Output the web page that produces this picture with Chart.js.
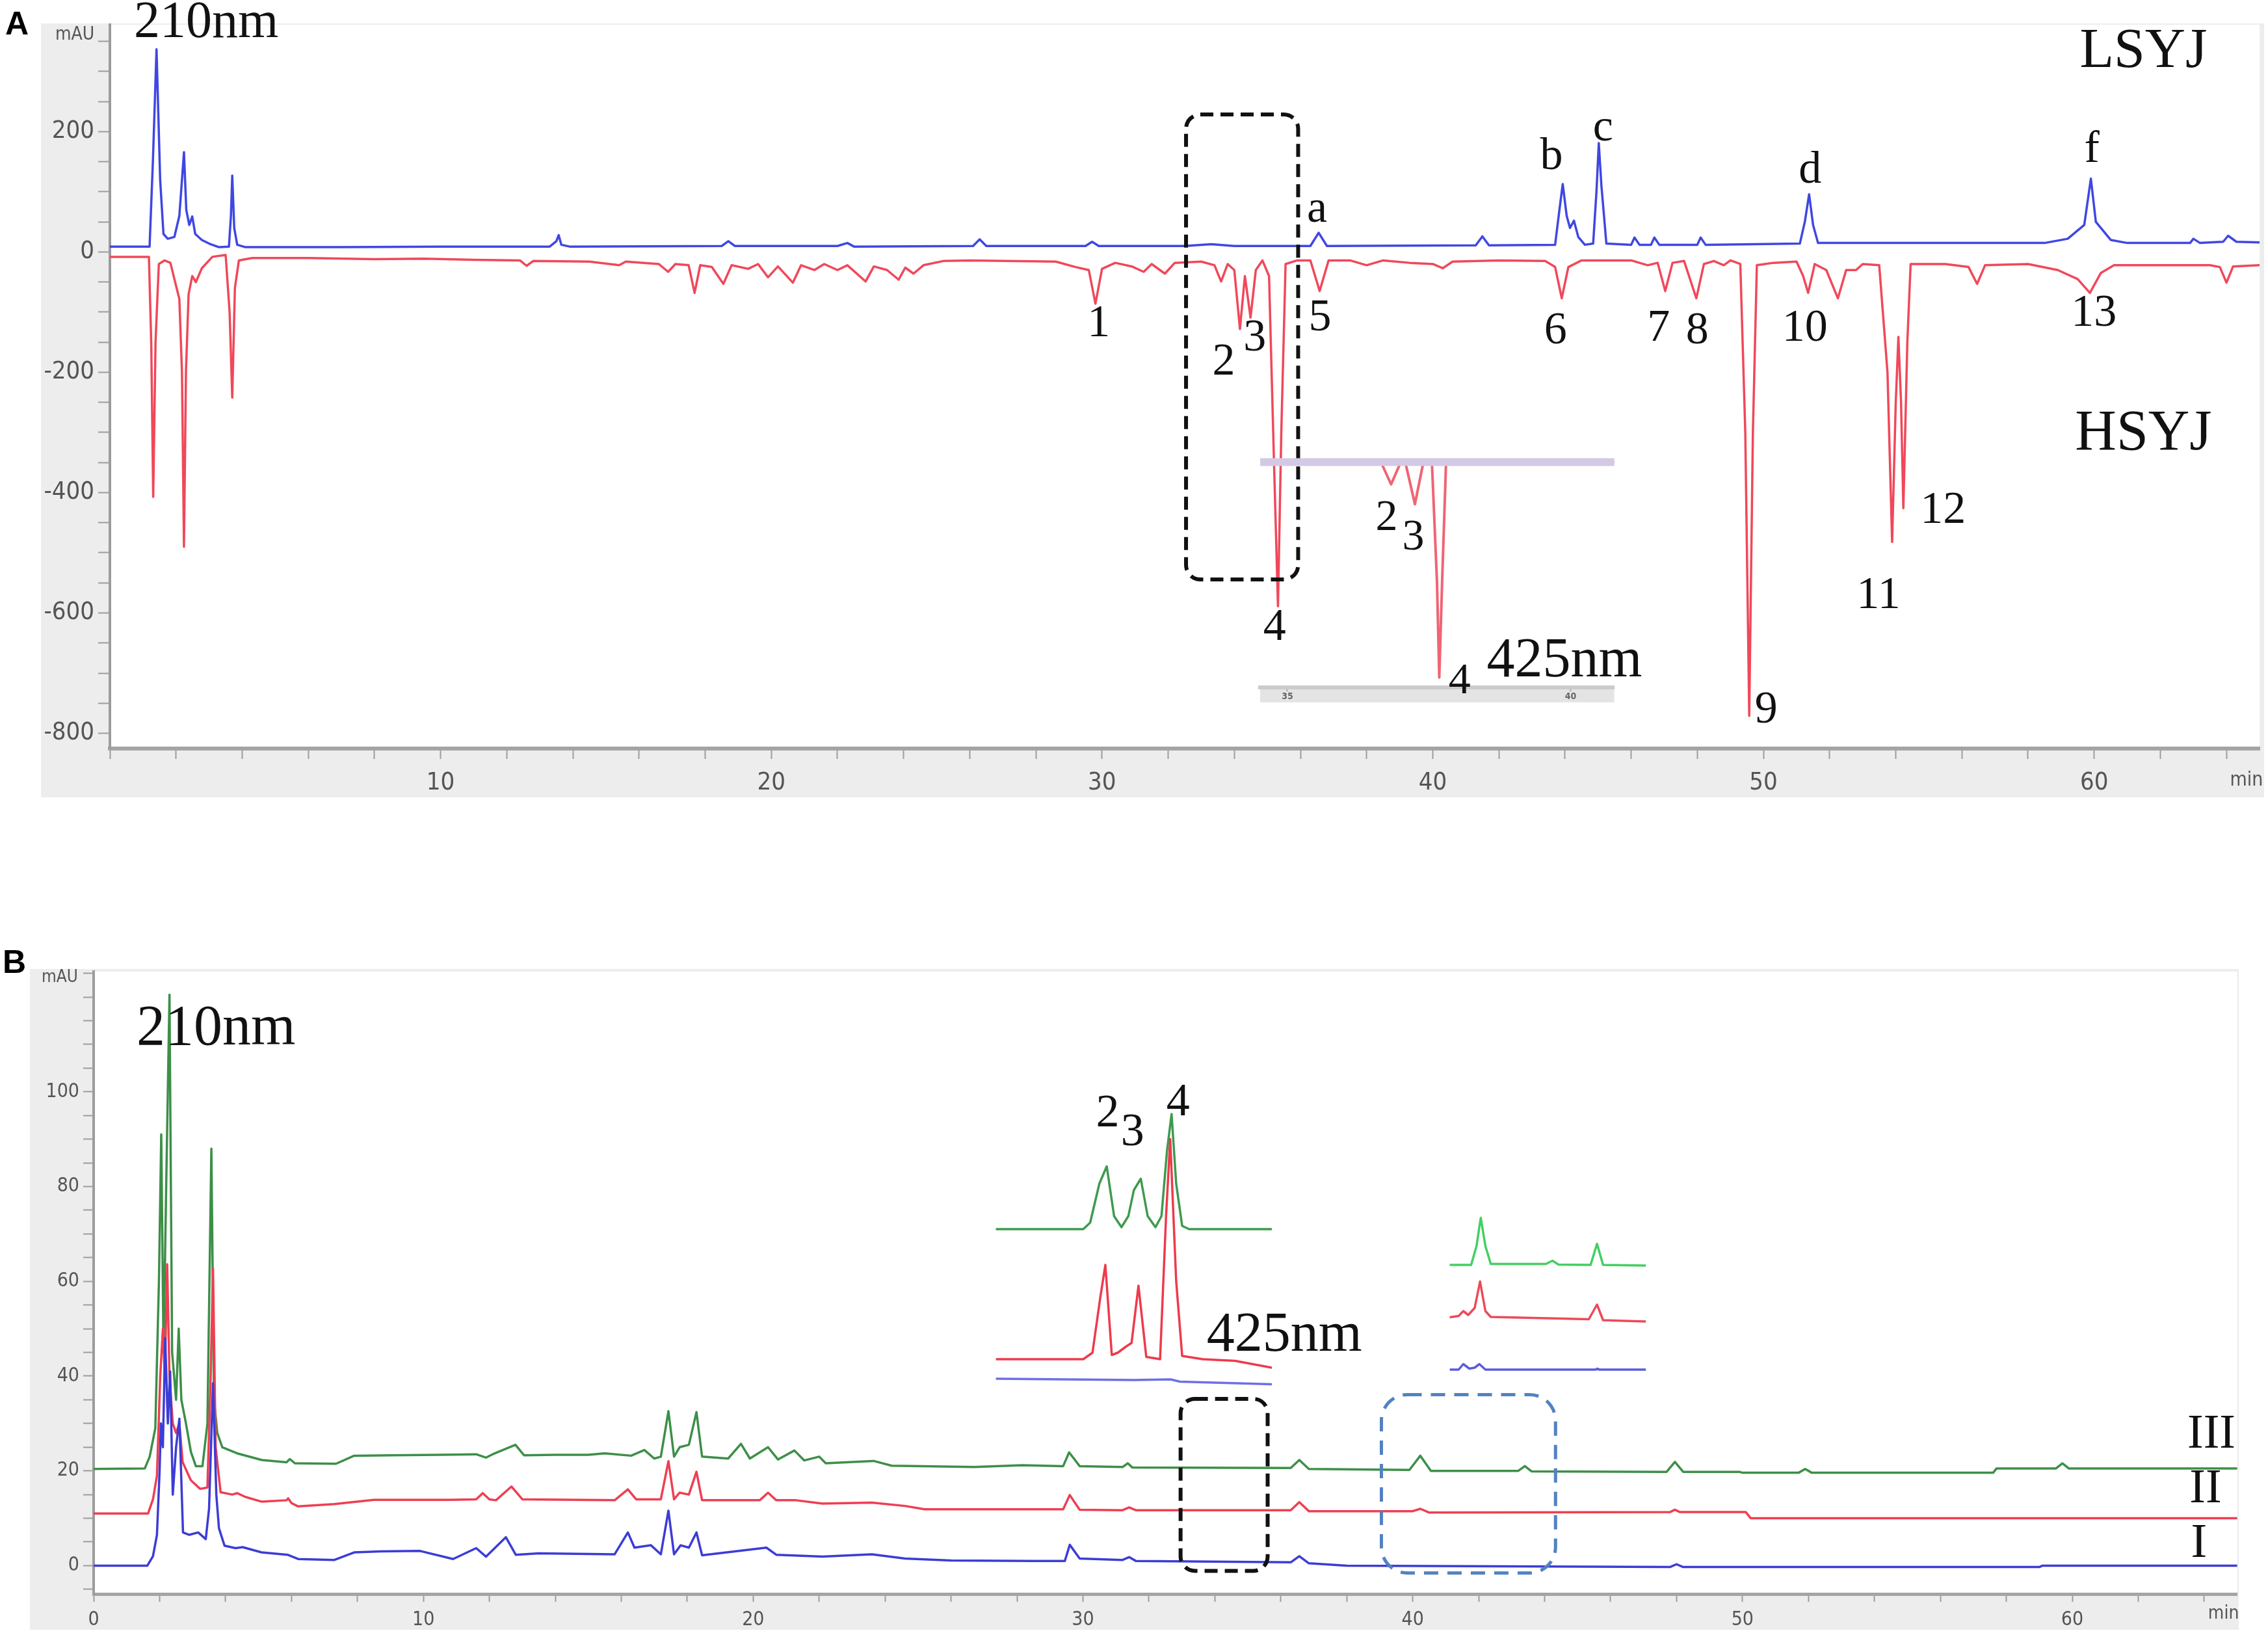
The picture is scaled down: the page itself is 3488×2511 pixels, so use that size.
<!DOCTYPE html>
<html><head><meta charset="utf-8">
<script src="https://cdn.jsdelivr.net/npm/chart.js@4.4.1/dist/chart.umd.min.js"></script>
<style>
html,body{margin:0;padding:0;background:#fff;}
body{width:3488px;height:2511px;position:relative;overflow:hidden;}
canvas{position:absolute;}
.plabel{position:absolute;font:bold 50px 'Liberation Sans',Arial,sans-serif;line-height:50px;color:#000;}
</style></head><body>
<canvas id="cA" width="3419" height="1226" style="left:63px;top:0px"></canvas>
<canvas id="cAi" width="610" height="400" style="left:1930px;top:690px"></canvas>
<canvas id="cB" width="3397" height="1016" style="left:46px;top:1490px"></canvas>
<canvas id="cB1" width="600" height="480" style="left:1520px;top:1660px"></canvas>
<canvas id="cB2" width="320" height="275" style="left:2220px;top:1850px"></canvas>
<div class="plabel" style="left:8px;top:11px">A</div>
<div class="plabel" style="left:4px;top:1454px">B</div>
<script>
// ---------------- DATA (time in min, absorbance in mAU) ----------------
// Panel A, 210 nm: LSYJ (upward) and HSYJ (mirrored, downward)
const LSYJ_210 = [[0,9],[1.2,9],[1.3,150],[1.41,337],[1.52,120],[1.62,30],[1.75,22],[1.95,25],[2.1,60],[2.18,120],[2.24,166],[2.31,70],[2.4,45],[2.49,59],[2.58,30],[2.78,20],[3.0,14],[3.3,8],[3.6,9],[3.66,60],[3.70,127],[3.76,40],[3.85,12],[4.1,8],[7,8],[10,9],[13.3,9],[13.5,18],[13.57,28],[13.65,12],[13.9,9],[18.5,10],[18.7,18],[18.9,10],[22,10],[22.3,15],[22.5,9],[26.1,10],[26.3,21],[26.5,10],[29.5,10],[29.7,17],[29.9,10],[32.5,10],[33.3,13],[34,10],[36.3,10],[36.55,32],[36.8,10],[41.3,11],[41.5,26],[41.7,11],[43.7,12],[43.83,70],[43.93,113],[44.05,60],[44.15,40],[44.27,52],[44.4,25],[44.6,12],[44.85,14],[44.95,100],[45.02,181],[45.1,110],[45.25,14],[46.0,12],[46.1,24],[46.25,12],[46.6,12],[46.7,24],[46.85,12],[48.0,12],[48.1,24],[48.25,12],[51.1,14],[51.25,50],[51.38,96],[51.5,45],[51.65,15],[58.5,15],[59.2,22],[59.7,45],[59.9,122],[60.05,50],[60.5,20],[61.0,15],[62.9,15],[63.0,22],[63.2,15],[63.9,17],[64.05,27],[64.3,17],[65,16]];
const HSYJ_210 = [[0,-8],[1.18,-8],[1.25,-150],[1.31,-407],[1.38,-150],[1.48,-20],[1.65,-14],[1.83,-18],[1.95,-45],[2.1,-78],[2.18,-200],[2.24,-490],[2.3,-200],[2.38,-70],[2.49,-40],[2.6,-50],[2.78,-27],[3.1,-8],[3.5,-5],[3.62,-100],[3.70,-242],[3.78,-60],[3.9,-14],[4.3,-10],[6,-10],[8,-12],[9.5,-11],[11,-13],[12.4,-14],[12.6,-23],[12.8,-15],[14.5,-16],[15.4,-22],[15.6,-16],[16.6,-20],[16.88,-33],[17.1,-20],[17.5,-22],[17.68,-68],[17.85,-22],[18.2,-25],[18.55,-53],[18.8,-22],[19.3,-28],[19.6,-20],[19.9,-42],[20.2,-24],[20.65,-51],[20.9,-22],[21.3,-30],[21.6,-20],[22.0,-30],[22.3,-22],[22.85,-49],[23.1,-24],[23.5,-30],[23.85,-46],[24.05,-26],[24.3,-36],[24.6,-22],[25.2,-15],[26,-14],[28.6,-16],[29.2,-25],[29.6,-30],[29.8,-86],[30.0,-28],[30.4,-18],[30.9,-24],[31.26,-33],[31.5,-20],[31.9,-36],[32.2,-18],[33.0,-16],[33.4,-22],[33.6,-49],[33.8,-20],[34.0,-30],[34.17,-128],[34.32,-40],[34.49,-109],[34.65,-30],[34.85,-14],[35.05,-40],[35.2,-350],[35.32,-589],[35.42,-300],[35.55,-20],[35.9,-14],[36.3,-14],[36.58,-65],[36.85,-14],[37.5,-14],[38,-22],[38.5,-14],[39.3,-18],[40.0,-20],[40.3,-27],[40.6,-16],[42,-14],[43.4,-15],[43.7,-25],[43.9,-77],[44.1,-25],[44.5,-14],[46.0,-14],[46.5,-22],[46.8,-18],[47.03,-65],[47.25,-18],[47.6,-15],[47.97,-77],[48.2,-20],[48.5,-15],[48.8,-22],[49.0,-14],[49.3,-20],[49.45,-300],[49.57,-771],[49.68,-300],[49.8,-22],[50.3,-18],[51.0,-16],[51.2,-40],[51.35,-68],[51.55,-20],[51.9,-30],[52.25,-77],[52.5,-30],[52.8,-30],[53.0,-20],[53.5,-22],[53.75,-200],[53.89,-482],[54.0,-250],[54.08,-141],[54.16,-250],[54.23,-426],[54.35,-150],[54.45,-20],[55.5,-20],[56.2,-25],[56.46,-53],[56.7,-22],[58.0,-20],[58.9,-30],[59.5,-45],[59.87,-68],[60.2,-35],[60.6,-22],[62,-22],[63.5,-22],[63.8,-25],[64.0,-51],[64.2,-24],[65,-22]];
// Panel A inset, 425 nm
const LSYJ_425 = [[34.52,0],[40.77,0]];
const HSYJ_425 = [[34.52,0],[36.65,0],[36.83,-37],[37.0,0],[37.08,0],[37.25,-70],[37.4,0],[37.55,0],[37.64,-200],[37.68,-358],[37.73,-200],[37.8,0],[40.77,0]];
// Panel B, 210 nm: samples III (green), II (red), I (blue)
const S3_210 = [[0,20.4],[1.55,20.5],[1.7,23],[1.87,29],[1.98,60],[2.05,91],[2.12,45],[2.2,80],[2.3,120.5],[2.38,45],[2.5,35],[2.58,50],[2.66,35],[2.8,30],[2.95,24],[3.1,21],[3.3,21],[3.45,30],[3.57,88],[3.65,35],[3.75,28],[3.9,25],[4.35,23.7],[5.1,22.3],[5.85,21.8],[5.95,22.5],[6.1,21.6],[7.35,21.5],[7.9,23.2],[9,23.3],[10.5,23.4],[11.6,23.5],[11.9,22.8],[12.1,23.5],[12.79,25.5],[13.05,23.3],[14,23.4],[15,23.4],[15.5,23.7],[16.3,23.2],[16.7,24.4],[17.0,22.6],[17.2,23],[17.43,32.6],[17.6,23],[17.77,25],[18.05,25.5],[18.28,32.4],[18.45,23],[19.24,22.6],[19.63,25.7],[19.9,22.6],[20.45,25.0],[20.75,22.4],[21.25,24.3],[21.55,22.2],[22.0,23],[22.2,21.6],[23.65,22.1],[24.2,21.1],[26.7,20.8],[28.16,21.2],[29.4,21.0],[29.58,23.9],[29.9,21.0],[31.2,20.8],[31.36,21.6],[31.5,20.7],[36.3,20.6],[36.56,22.3],[36.85,20.4],[39.9,20.2],[40.23,23.2],[40.55,20.0],[43.2,20.0],[43.4,21.0],[43.6,19.9],[47.7,19.8],[47.95,21.9],[48.2,19.8],[49.9,19.8],[50.0,19.6],[51.7,19.6],[51.9,20.4],[52.1,19.6],[57.6,19.6],[57.7,20.5],[59.5,20.5],[59.7,21.6],[59.9,20.5],[65,20.5]];
const S2_210 = [[0,11],[1.65,11],[1.8,14],[1.92,19],[2.02,40],[2.1,50],[2.16,40],[2.23,63.6],[2.3,40],[2.4,30],[2.5,28],[2.6,30],[2.7,21.8],[2.95,18],[3.23,16.2],[3.45,16.5],[3.55,40],[3.62,62.7],[3.7,25],[3.85,15.5],[4.2,15],[4.35,15.3],[4.6,14.5],[5.1,13.5],[5.85,13.8],[5.9,14.2],[6.0,13.2],[6.2,12.5],[7.3,13],[8.5,13.9],[10.8,13.9],[11.6,14],[11.8,15.3],[12.0,14],[12.2,13.8],[12.67,16.7],[13.0,14],[15.8,13.8],[16.2,16.1],[16.45,14],[17.2,14],[17.43,22.05],[17.6,14],[17.77,15.4],[18.05,15],[18.28,19.8],[18.45,13.8],[20.2,13.8],[20.45,15.4],[20.7,13.8],[21.3,13.8],[22.1,13.1],[23.6,13.3],[24.6,12.6],[25.2,11.9],[28.6,11.9],[29.4,11.9],[29.6,14.9],[29.9,11.8],[31.2,11.7],[31.4,12.3],[31.6,11.7],[36.3,11.7],[36.56,13.4],[36.85,11.5],[40.0,11.5],[40.23,12.0],[40.5,11.2],[47.8,11.3],[47.95,11.8],[48.1,11.3],[50.1,11.3],[50.25,10.0],[65,10.0]];
const S1_210 = [[0,0],[1.63,0],[1.8,2],[1.92,6.5],[2.0,20],[2.04,30],[2.1,25],[2.17,48],[2.25,30],[2.32,41],[2.4,15],[2.5,25],[2.6,31],[2.71,7],[2.9,6.5],[3.17,7],[3.4,5.6],[3.5,12],[3.62,38.5],[3.72,15],[3.8,7.9],[3.97,4.2],[4.3,3.7],[4.52,3.9],[5.09,2.8],[5.88,2.3],[6.2,1.4],[7.3,1.2],[7.9,2.8],[8.7,3.0],[9.9,3.1],[10.9,1.4],[11.6,3.7],[11.9,1.9],[12.5,6.0],[12.8,2.3],[13.5,2.6],[15.8,2.4],[16.2,7.0],[16.4,3.8],[16.9,4.3],[17.2,2.4],[17.43,11.6],[17.6,2.4],[17.8,4.3],[18.05,3.8],[18.28,7.0],[18.45,2.2],[20.4,3.8],[20.7,2.3],[22.1,1.9],[23.6,2.4],[24.6,1.5],[26,1.1],[28.5,1.0],[29.45,1.0],[29.6,4.4],[29.9,1.5],[31.2,1.2],[31.4,1.8],[31.6,1.0],[36.3,0.7],[36.56,2.0],[36.85,0.5],[38,0],[47.8,-0.3],[48.0,0.3],[48.2,-0.3],[59.0,-0.3],[59.1,0],[65,0]];
// Panel B inset 1, 425 nm (peaks 2, 3, 4)
const S3_425 = [[30,46],[31.9,46],[32.05,48],[32.25,60],[32.41,65.3],[32.57,50],[32.73,46.6],[32.88,50],[33.0,58],[33.15,61.5],[33.3,50],[33.47,46.6],[33.6,50],[33.72,70],[33.82,81.4],[33.92,60],[34.05,47],[34.2,46],[36,46]];
const S2_425 = [[30,6],[31.9,6],[32.1,8],[32.27,25],[32.38,35],[32.52,7.3],[32.65,8],[32.83,9.9],[32.95,11],[33.1,28.6],[33.27,6.7],[33.45,6.3],[33.57,6],[33.7,50],[33.79,73.7],[33.92,30],[34.05,7],[34.5,6],[35.2,5.5],[36,3.4]];
const S1_425 = [[30,0],[33.0,-0.4],[33.8,-0.2],[34.0,-0.9],[36,-1.7]];
// Panel B inset 2 (expanded 39-44.5 min window)
const S3_win = [[39,32.2],[39.6,32.2],[39.75,38],[39.87,46.7],[40.0,38],[40.15,32.5],[41.7,32.5],[41.88,33.5],[42.05,32.3],[42.95,32.2],[43.13,38.7],[43.3,32.2],[44.5,32]];
const S2_win = [[39,16.1],[39.25,16.5],[39.38,18.0],[39.52,16.8],[39.7,19],[39.85,27.1],[40.0,18],[40.15,16.2],[42.9,15.5],[43.13,20.0],[43.3,15.2],[44.5,14.8]];
const S1_win = [[39,0],[39.25,0],[39.38,1.7],[39.55,0.3],[39.7,0.6],[39.83,1.7],[40.0,0],[43.1,0],[43.13,0.3],[43.2,0],[44.5,0]];

// Tick label rules
const A_X_LABELS = [10,20,30,40,50,60];
const A_Y_LABELS = [200,0,-200,-400,-600,-800];
const B_X_LABELS = [0,10,20,30,40,50,60];
const B_Y_LABELS = [0,20,40,60,80,100];

// ---------------- ANNOTATIONS (in data coordinates) ----------------
const SERIF = "'Liberation Serif','Times New Roman',serif";
const NARROW = "'Liberation Sans Narrow','DejaVu Sans Condensed','Arial Narrow','Liberation Sans',sans-serif";
const A_LABELS = [
  ['210nm',2.91,380,80],['LSYJ',61.49,332.4,86],['HSYJ',61.49,-303.2,88],
  ['a',36.5,69.7,70],['b',43.59,157.3,70],['c',45.15,204.9,70],['d',51.41,134.6,70],['f',59.93,169.2,70],
  ['1',29.9,-119.8,70],['2',33.68,-183.9,70],['3',34.62,-144.3,70],['4',35.22,-625.4,70],['5',36.59,-110.8,70],
  ['6',43.71,-132.4,70],['7',46.83,-128.1,70],['8',48.0,-132.4,70],['9',50.08,-762.2,70],['10',51.25,-128.1,70],
  ['11',53.48,-572.4,70],['12',55.43,-430.3,70],['13',59.99,-102.7,70]
];
const AI_LABELS = [['2',36.75,-93.5,68],['3',37.22,-126,68],['4',38.04,-364.9,68],['425nm',39.89,-331.4,86]];
const B_LABELS = [['210nm',3.71,113.15,88],['III',64.22,27.5,74],['II',64.04,16.1,74],['I',63.84,4.46,74]];
const B1_LABELS = [['2',32.43,81.4,72],['3',32.97,75.6,72],['4',33.96,84.7,72],['425nm',36.27,13.1,86]];
const A_BOXES = [{t0:32.54,t1:35.93,v0:228.6,v1:-544.3,color:'#111',w:6,dash:[20,11],r:22}];
const B_BOXES = [{t0:32.96,t1:35.6,v0:35.2,v1:-1.1,color:'#111',w:6,dash:[20,11],r:22},
                 {t0:39.05,t1:44.33,v0:36.1,v1:-1.56,color:'#5282c2',w:5,dash:[22,14],r:40}];

// ---------------- helpers ----------------
function xy(arr){ return arr.map(p=>({x:p[0],y:p[1]})); }
function ds(arr,color,w){ return {data:xy(arr),borderColor:color,borderWidth:w,pointRadius:0,fill:false,tension:0,borderJoinStyle:'round',borderCapStyle:'round'}; }

function decor(cfg){
  return {
    id:'decor',
    beforeDraw(chart){
      const {ctx,chartArea:a,width,height}=chart;
      ctx.save();
      if(cfg.bg){const t=cfg.bgTop||0;ctx.fillStyle=cfg.bg;ctx.fillRect(0,t,width,height-t);}
      if(cfg.plotBg){ctx.fillStyle=cfg.plotBg;ctx.fillRect(a.left,a.top,a.right-a.left,a.bottom-a.top);}
      if(cfg.band){ctx.fillStyle=cfg.band.color;ctx.fillRect(a.left,a.bottom,a.right-a.left,cfg.band.h);}
      ctx.restore();
    },
    afterDraw(chart){
      const {ctx,chartArea:a}=chart; const x=chart.scales.x, y=chart.scales.y;
      ctx.save();
      (cfg.boxes||[]).forEach(b=>{
        const x0=x.getPixelForValue(b.t0),x1=x.getPixelForValue(b.t1),y0=y.getPixelForValue(b.v0),y1=y.getPixelForValue(b.v1);
        ctx.beginPath();ctx.setLineDash(b.dash);ctx.lineWidth=b.w;ctx.strokeStyle=b.color;
        ctx.roundRect(Math.min(x0,x1),Math.min(y0,y1),Math.abs(x1-x0),Math.abs(y1-y0),b.r);
        ctx.stroke();
      });
      ctx.setLineDash([]);
      ctx.textAlign='center';ctx.textBaseline='middle';
      (cfg.labels||[]).forEach(l=>{
        ctx.font=l[3]+'px '+SERIF;ctx.fillStyle='#111';
        ctx.fillText(l[0],x.getPixelForValue(l[1]),y.getPixelForValue(l[2]));
      });
      (cfg.axisTexts||[]).forEach(t=>{
        ctx.font=t.size+'px '+NARROW;ctx.fillStyle='#555';
        const px=(t.xa==='left'?a.left:a.right)+t.dx, py=(t.ya==='top'?a.top:a.bottom)+t.dy;
        ctx.fillText(t.text,px,py);
      });
      ctx.restore();
    }
  };
}

function mainChart(id,datasets,o,dec){
  return new Chart(document.getElementById(id),{
    type:'line',
    data:{datasets},
    options:{
      responsive:false,animation:false,events:[],
      layout:{padding:{left:0,top:o.padTop,right:o.padRight,bottom:0},autoPadding:false},
      plugins:{legend:{display:false},tooltip:{enabled:false}},
      scales:{
        x:{type:'linear',min:o.xmin,max:o.xmax,
          border:{color:'#a4a4a4',width:o.xBorder},
          grid:{drawOnChartArea:false,drawTicks:true,tickLength:o.xTick,tickColor:'#9c9c9c',tickWidth:2},
          ticks:{stepSize:2,includeBounds:false,autoSkip:false,maxRotation:0,minRotation:0,color:'#555',padding:o.xPad,
            font:{family:NARROW,size:o.fsX},callback:v=>o.xLabels.includes(v)?String(v):''},
          afterFit:s=>{s.height=o.xH;s.paddingLeft=0;s.paddingRight=0;}},
        y:{type:'linear',min:o.ymin,max:o.ymax,
          border:{color:'#9c9c9c',width:4},
          grid:{drawOnChartArea:false,drawTicks:true,tickLength:o.yTick,tickColor:'#9c9c9c',tickWidth:2},
          ticks:{stepSize:o.yStep,includeBounds:false,autoSkip:false,color:'#555',padding:6,
            font:{family:NARROW,size:o.fsY},callback:v=>o.yLabels.includes(v)?String(v):''},
          afterFit:s=>{s.width=o.yW;s.paddingTop=0;s.paddingBottom=0;}}
      }
    },
    plugins:[decor(dec)]
  });
}

function insetChart(id,datasets,o,dec){
  return new Chart(document.getElementById(id),{
    type:'line',
    data:{datasets},
    options:{
      responsive:false,animation:false,events:[],
      layout:{padding:o.pad,autoPadding:false},
      plugins:{legend:{display:false},tooltip:{enabled:false}},
      scales:{
        x:o.xAxis?{type:'linear',min:o.xmin,max:o.xmax,
            border:{color:'#cbcbcb',width:6},
            grid:{drawOnChartArea:false,drawTicks:true,tickLength:6,tickColor:'#aaa',tickWidth:2},
            ticks:{stepSize:5,includeBounds:false,autoSkip:false,maxRotation:0,color:'#666',padding:0,font:{family:NARROW,size:14,weight:'bold'}},
            afterFit:s=>{s.height=o.xH;s.paddingLeft=0;s.paddingRight=0;}}
          :{type:'linear',display:false,min:o.xmin,max:o.xmax},
        y:{type:'linear',display:false,min:o.ymin,max:o.ymax}
      }
    },
    plugins:[decor(dec)]
  });
}

// ---------------- Panel A ----------------
mainChart('cA',[ds(LSYJ_210,'#3f47e2',3.5),ds(HSYJ_210,'#f0485a',3.5)],
  {padTop:38,padRight:7,xmin:0,xmax:65,ymin:-825.4,ymax:377.8,xBorder:6,xTick:16,xPad:14,fsX:38,xH:75,
   yTick:18,yStep:50,fsY:38,yW:106,xLabels:A_X_LABELS,yLabels:A_Y_LABELS},
  {bg:'#ededed',bgTop:36,plotBg:'#ffffff',boxes:A_BOXES,labels:A_LABELS,
   axisTexts:[{text:'mAU',xa:'left',dx:-54,ya:'top',dy:16,size:28},{text:'min',xa:'right',dx:-20,ya:'bottom',dy:49,size:30}]});

insetChart('cAi',[ds(LSYJ_425,'#d4c9e4',12),ds(HSYJ_425,'#f06474',4)],
  {pad:{left:8,top:10,right:57.4,bottom:10},xAxis:true,xH:23,xmin:34.518,xmax:40.769,ymin:-374.6,ymax:11.35},
  {band:{color:'#e4e4e4',h:23},labels:AI_LABELS});

// ---------------- Panel B ----------------
mainChart('cB',[ds(S1_210,'#3c3cd6',3.5),ds(S2_210,'#ee3f52',3.5),ds(S3_210,'#3d8f48',3.5)],
  {padTop:4,padRight:2.4,xmin:0,xmax:65,ymin:-5.98,ymax:125.36,xBorder:5,xTick:12,xPad:10,fsX:30,xH:55,
   yTick:16,yStep:5,fsY:30,yW:98,xLabels:B_X_LABELS,yLabels:B_Y_LABELS},
  {bg:'#ededed',plotBg:'#ffffff',boxes:B_BOXES,labels:B_LABELS,
   axisTexts:[{text:'mAU',xa:'left',dx:-52,ya:'top',dy:9,size:26},{text:'min',xa:'right',dx:-21,ya:'bottom',dy:31,size:28}]});

insetChart('cB1',[ds(S1_425,'#6f6fe6',3.5),ds(S2_425,'#ee3a4c',3.5),ds(S3_425,'#3f9a4e',3.5)],
  {pad:{left:11.6,top:30,right:164,bottom:5},xAxis:false,xmin:30,xmax:36,ymin:-3,ymax:86},
  {labels:B1_LABELS});

insetChart('cB2',[ds(S1_win,'#5a5ae0',3.5),ds(S2_win,'#ec4a5a',3.5),ds(S3_win,'#44cf62',3.5)],
  {pad:{left:9.6,top:10,right:8.8,bottom:10},xAxis:false,xmin:39,xmax:44.5,ymin:-1.8,ymax:49.2},
  {});
</script>
</body></html>
